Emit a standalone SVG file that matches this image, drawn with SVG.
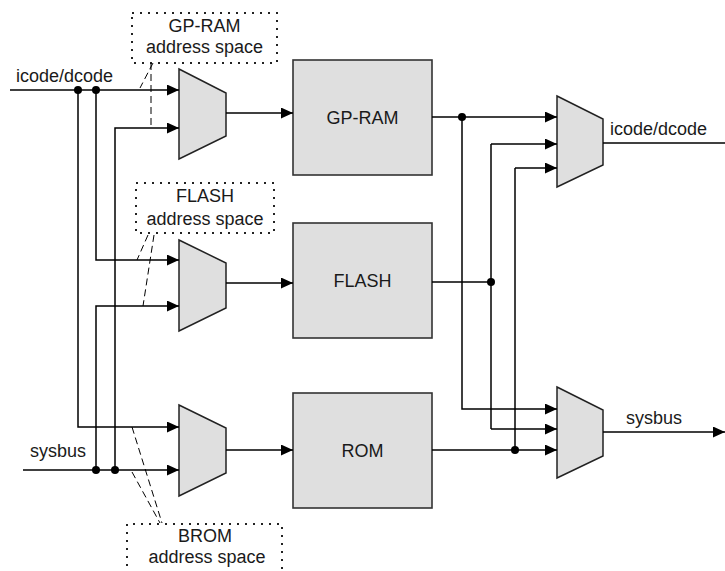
<svg xmlns="http://www.w3.org/2000/svg" width="725" height="571" viewBox="0 0 725 571">
<defs>
<marker id="arr" markerWidth="12" markerHeight="11" refX="12" refY="5.5" orient="auto" markerUnits="userSpaceOnUse">
<path d="M0,0 L12,5.5 L0,11 Z" fill="#000"/>
</marker>
<style>
text{font-family:"Liberation Sans",Arial,sans-serif;font-size:18px;fill:#1a1a1a}
.box{fill:#dfdfdf;stroke:#333;stroke-width:1.6}
.mux{fill:#dfdfdf;stroke:#222;stroke-width:1.5}
.dot{fill:none;stroke:#222;stroke-width:2;stroke-dasharray:2 6}
.w{fill:none;stroke:#000;stroke-width:1.5}
.a{fill:none;stroke:#000;stroke-width:1.5;marker-end:url(#arr)}
.d{fill:none;stroke:#000;stroke-width:1;stroke-dasharray:7 4}
.j{fill:#000}
.m{text-anchor:middle}
</style>
</defs>
<rect width="725" height="571" fill="#fff"/>

<g id="gpram-space">
<rect class="dot" x="132" y="13" width="145" height="50"/>
<text class="m" x="204.5" y="32">GP-RAM</text>
<text class="m" x="204.5" y="53">address space</text>
</g>
<g id="flash-space">
<rect class="dot" x="136" y="183" width="138" height="50"/>
<text class="m" x="205" y="202">FLASH</text>
<text class="m" x="205" y="225">address space</text>
</g>
<g id="brom-space">
<path class="dot" d="M127,590 V524 H282 V590"/>
<text class="m" x="205" y="542">BROM</text>
<text class="m" x="207" y="563">address space</text>
</g>

<g id="mux-gpram"><path class="mux" d="M179,69 L226,93 V136 L179,159 Z"/></g>
<g id="mux-flash"><path class="mux" d="M179,240 L226,263 V308 L179,331 Z"/></g>
<g id="mux-rom"><path class="mux" d="M179,405 L226,428 V473 L179,496 Z"/></g>
<g id="mux-icode"><path class="mux" d="M557,96 L603,119 V165 L557,187 Z"/></g>
<g id="mux-sysbus"><path class="mux" d="M557,387 L603,410 V456 L557,478 Z"/></g>

<g id="gpram"><rect class="box" x="293" y="60" width="139" height="115"/><text class="m" x="362.5" y="124">GP-RAM</text></g>
<g id="flash"><rect class="box" x="293" y="223" width="139" height="115"/><text class="m" x="362.5" y="287">FLASH</text></g>
<g id="rom"><rect class="box" x="293" y="393" width="139" height="115"/><text class="m" x="362.5" y="457">ROM</text></g>

<g id="labels">
<text x="16" y="82">icode/dcode</text>
<text x="30" y="457">sysbus</text>
<text x="610" y="135">icode/dcode</text>
<text x="626" y="424">sysbus</text>
</g>

<g id="connectors">
<!-- left inputs -->
<path class="a" d="M10,90 H179"/>
<path class="a" d="M78,90 V427 H179"/>
<path class="a" d="M96,90 V260 H179"/>
<path class="a" d="M115,470 V128 H179"/>
<path class="a" d="M96,470 V306 H179"/>
<path class="a" d="M23,470 H179"/>
<!-- mux outputs -->
<path class="a" d="M226,113 H293"/>
<path class="a" d="M226,283 H293"/>
<path class="a" d="M226,450 H293"/>
<!-- right side -->
<path class="a" d="M432,117 H557"/>
<path class="a" d="M462,117 V409 H557"/>
<path class="w" d="M432,282 H491"/>
<path class="a" d="M491,144 H557"/>
<path class="w" d="M491,144 V429"/>
<path class="a" d="M491,429 H557"/>
<path class="a" d="M432,450 H557"/>
<path class="a" d="M515,168 H557"/>
<path class="w" d="M515,168 V450"/>
<path class="w" d="M603,143 H725"/>
<path class="a" d="M603,432 H725"/>
<!-- junction dots -->
<circle class="j" cx="78" cy="90" r="4"/>
<circle class="j" cx="96" cy="90" r="4"/>
<circle class="j" cx="96" cy="470" r="4"/>
<circle class="j" cx="115" cy="470" r="4"/>
<circle class="j" cx="462" cy="117" r="4"/>
<circle class="j" cx="491" cy="282" r="4"/>
<circle class="j" cx="515" cy="450" r="4"/>
<!-- dashed address-space pointers -->
<path class="d" d="M153,63 L140,88"/>
<path class="d" d="M151,63 V128"/>
<path class="d" d="M148,235 L137,260"/>
<path class="d" d="M154,235 L143,306"/>
<path class="d" d="M132,427 L162,523"/>
<path class="d" d="M132,472 L160,523"/>
</g>
</svg>
